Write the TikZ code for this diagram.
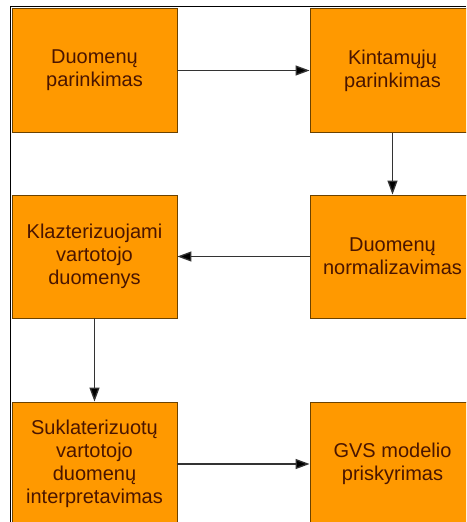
\documentclass[tikz,border=0pt]{standalone}
\usepackage{fontspec}
\setmainfont{Liberation Sans}
\usetikzlibrary{arrows.meta}
\definecolor{boxfill}{HTML}{FF9900}
\definecolor{boxline}{HTML}{6B4200}
\definecolor{boxtext}{HTML}{4A1500}
\definecolor{flowline}{HTML}{333333}
\tikzset{
  stage/.style={draw=boxline, line width=0.9pt, fill=boxfill, text=boxtext,
    minimum width=165pt, minimum height=124pt, inner sep=0pt, align=center,
    font=\fontsize{20pt}{23pt}\selectfont},
  flow/.style={draw=flowline, line width=1.3pt,
    -{Triangle[length=14pt,width=10pt,fill=black]}},
  frameline/.style={draw=black, line width=1.6pt}
}
\begin{document}
\begin{tikzpicture}[x=1pt,y=1pt]
  \clip (0,0) rectangle (466,-522);
  \fill[white] (0,0) rectangle (466,-522);
  % outer frame along the top and left edges
  \coordinate (fbl) at (10.5,-522);
  \coordinate (ftl) at (10.5,-6.5);
  \coordinate (ftr) at (466,-6.5);
  \draw[frameline] (fbl) -- (ftl) -- (ftr);
  % process stages
  \node[stage] (b1) at (94.5,-70.5) {Duomenų\\parinkimas};
  \node[stage] (b2) at (392.5,-70.5) {Kintamųjų\\parinkimas};
  \node[stage, minimum height=123pt] (b3) at (94.5,-256.5) {Klazterizuojami\\vartotojo\\duomenys};
  \node[stage, minimum height=123pt] (b4) at (392.5,-256.5) {Duomenų\\normalizavimas};
  \node[stage] (b5) at (94.5,-464) {Suklaterizuotų\\vartotojo\\duomenų\\interpretavimas};
  \node[stage] (b6) at (392.5,-464) {GVS modelio\\priskyrimas};
  % flow between stages
  \draw[flow] (b1) -- (b2);
  \draw[flow] (b2) -- (b4);
  \draw[flow] (b4) -- (b3);
  \draw[flow] (b3) -- (b5);
  \draw[flow] (b5) -- (b6);
\end{tikzpicture}
\end{document}
